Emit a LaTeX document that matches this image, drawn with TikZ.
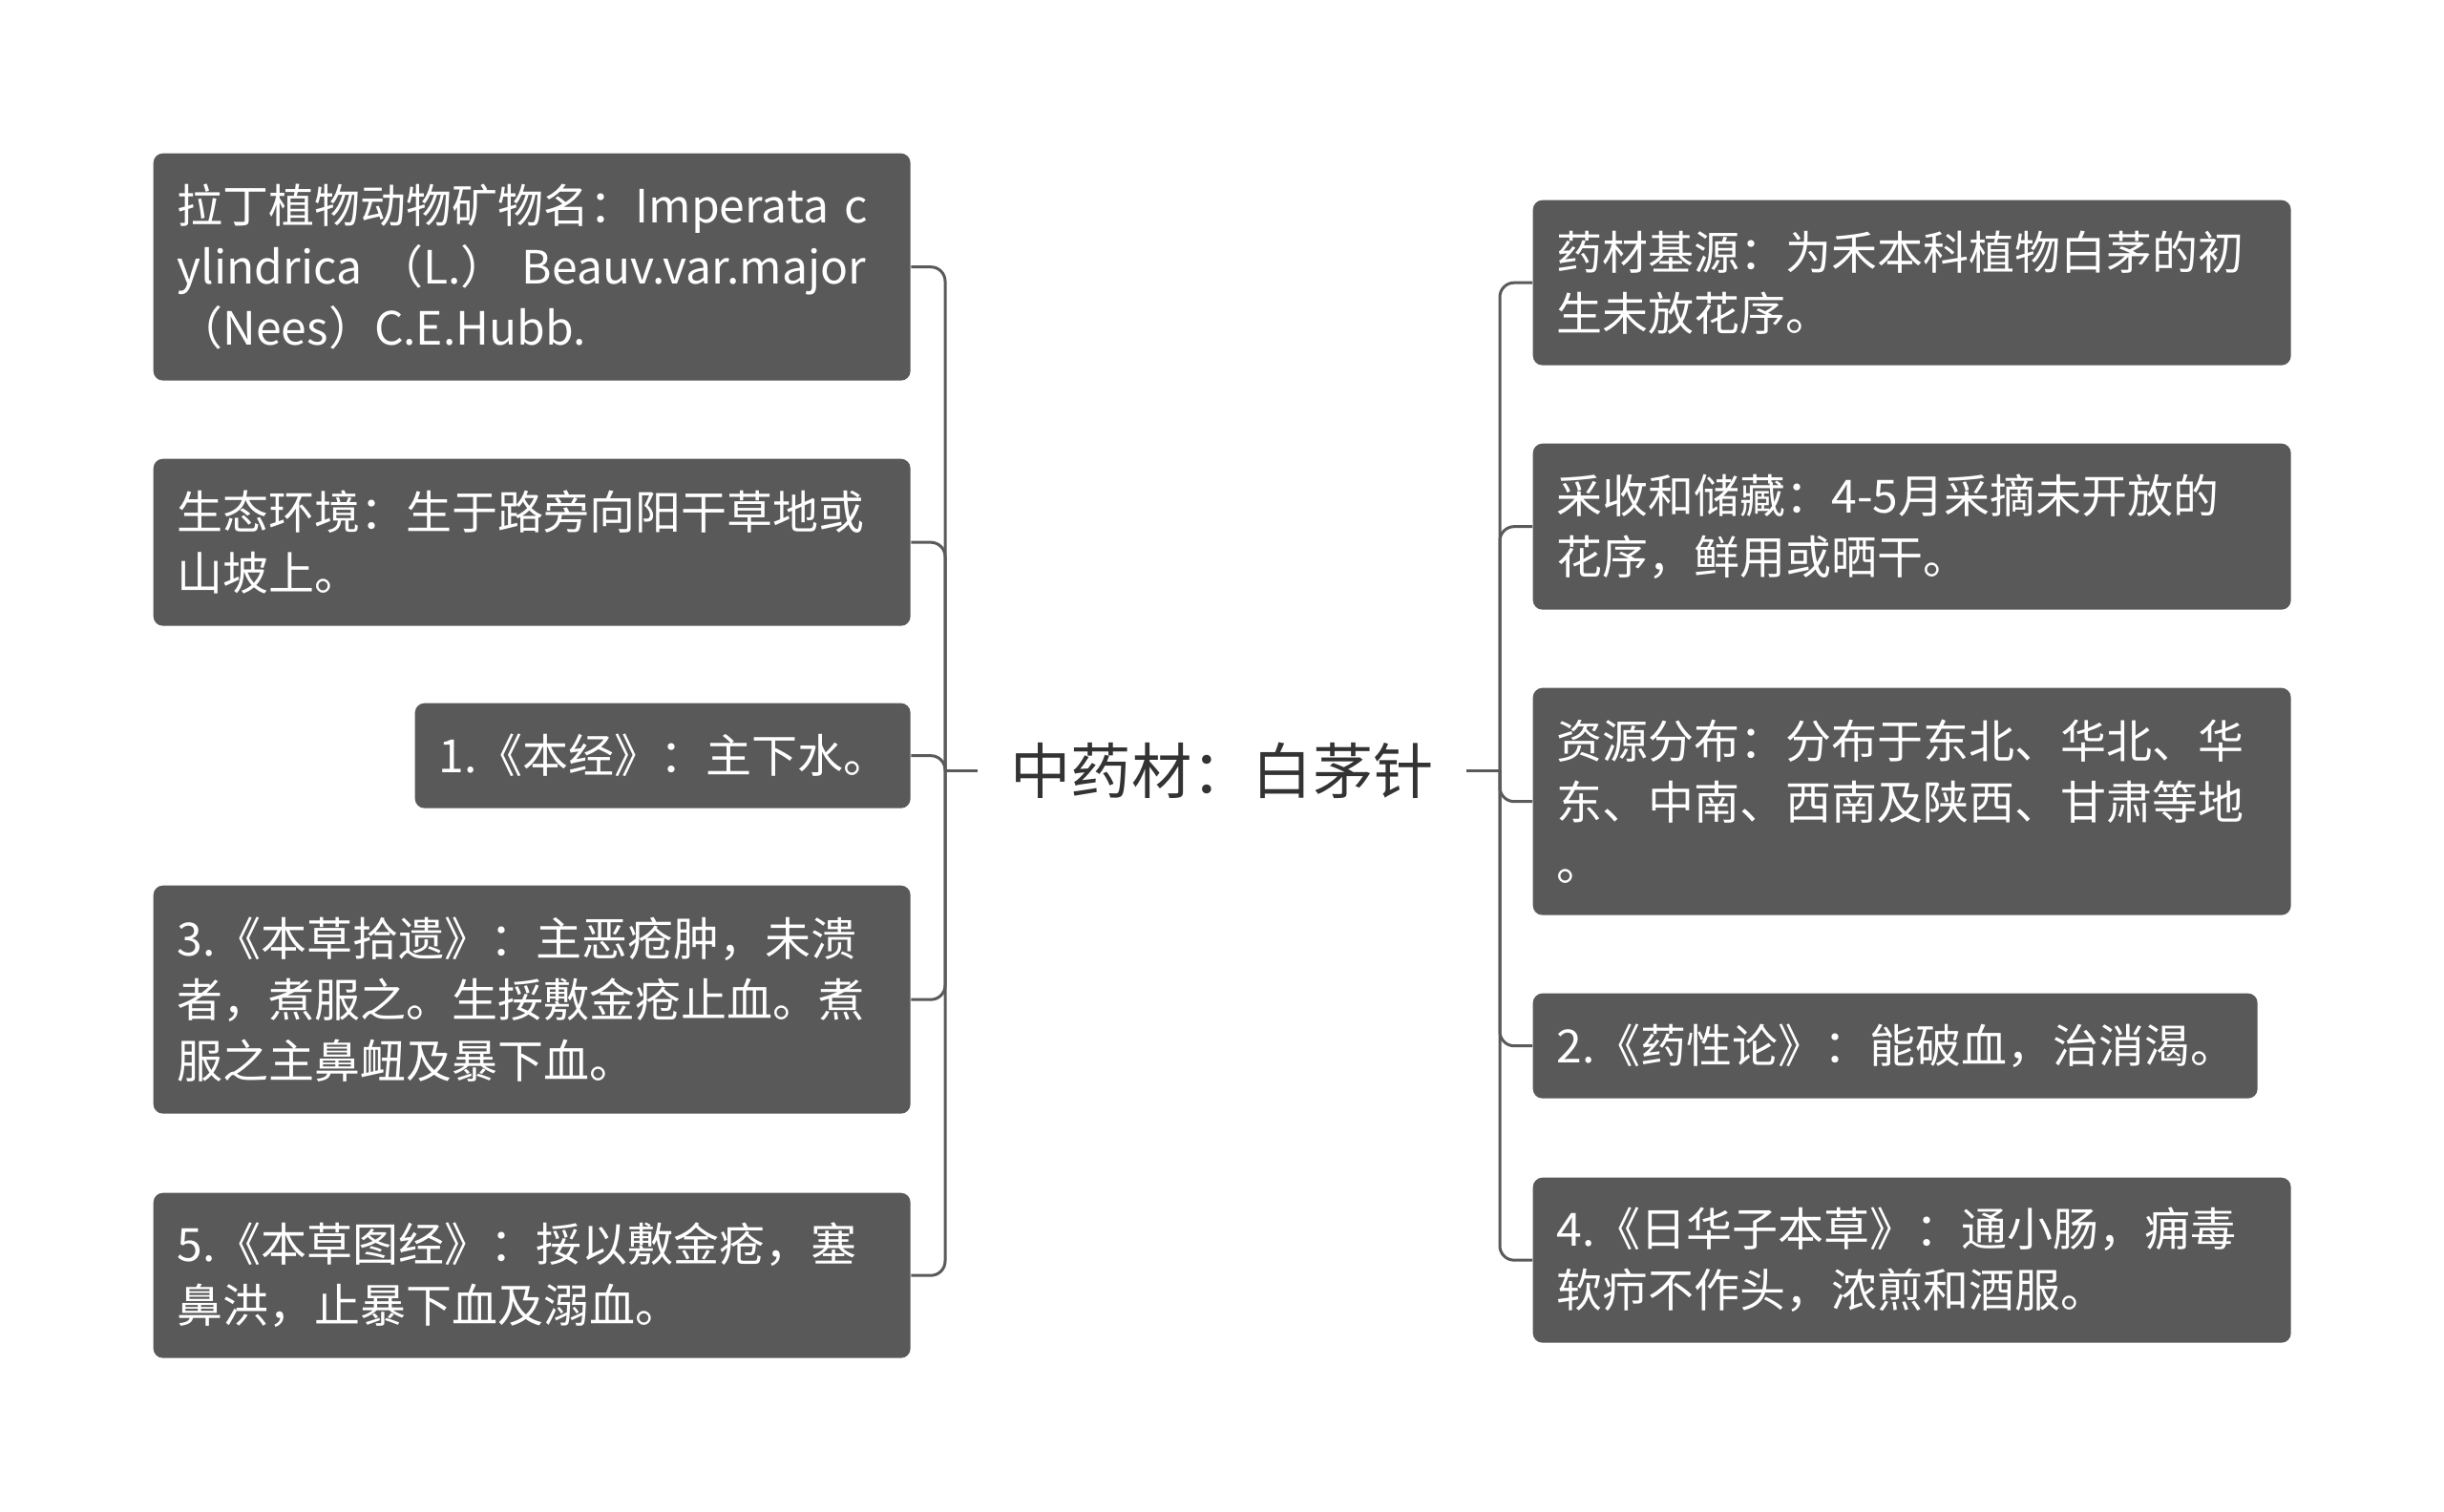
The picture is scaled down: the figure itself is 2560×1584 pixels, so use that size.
\documentclass[tikz,border=0pt]{standalone}
\usepackage{fontspec}
\newfontfamily\cjk{Noto Sans CJK SC}
\definecolor{boxgray}{HTML}{595959}
\definecolor{linegray}{HTML}{5A5A5A}
\definecolor{roottext}{HTML}{333333}
\tikzset{
  leaf/.style={rectangle, rounded corners=3pt, fill=boxgray, text=white,
    font=\cjk\fontsize{14.4}{19.2}\selectfont, align=left, anchor=north west,
    inner xsep=7.5pt, inner ysep=0pt},
  rootnode/.style={font=\cjk\fontsize{19}{22}\selectfont, text=roottext, inner xsep=10.2pt, inner ysep=4pt},
  conn/.style={draw=linegray, line width=0.9pt, rounded corners=4.5pt}
}
\begin{document}
\begin{tikzpicture}[x=0.3pt, y=-0.3pt]
\useasboundingbox (0,0) rectangle (2560,1584);
\fill[white] (0,0) rectangle (2560,1584);
% root
\node[rootnode] (root) at (1280,807) {中药材：白茅针};
\coordinate (lbus) at (990,807);
\coordinate (rbus) at (1571,807);
% left
\node[leaf, text width=222.9pt, minimum height=71.4pt] (L1) at (160,160)
  {拉丁植物动物矿物名：Imperata c\\ylindrica （L.） Beauv.var.major\\（Nees）C.E.Hubb.};
\node[leaf, text width=222.9pt, minimum height=52.5pt] (L2) at (160,480)
  {生态环境：生于路旁向阳干草地或\\山坡上。};
\node[leaf, text width=140.7pt, minimum height=33pt] (L3) at (434,736)
  {1.《本经》：主下水。};
\node[leaf, text width=222.9pt, minimum height=71.7pt] (L4) at (160,927)
  {3.《本草拾遗》：主恶疮肿，未溃\\者，煮服之。生挼敷金疮止血。煮\\服之主鼻衄及暴下血。};
\node[leaf, text width=222.9pt, minimum height=51.9pt] (L5) at (160,1249)
  {5.《本草图经》：挼以敷金疮，塞\\鼻洪，止暴下血及溺血。};
% right
\node[leaf, text width=223.2pt, minimum height=51.9pt] (R1) at (1605,209)
  {药材基源：为禾本科植物白茅的初\\生未放花序。};
\node[leaf, text width=223.2pt, minimum height=52.2pt] (R2) at (1605,464)
  {采收和储藏：4-5月采摘未开放的\\花序，鲜用或晒干。};
\node[leaf, text width=223.2pt, minimum height=71.4pt] (R3) at (1605,720)
  {资源分布：分布于东北、华北、华\\东、中南、西南及陕西、甘肃等地\\。};
\node[leaf, text width=212.7pt, minimum height=33pt] (R4) at (1605,1040)
  {2.《药性论》：能破血，治消渴。};
\node[leaf, text width=223.2pt, minimum height=51.9pt] (R5) at (1605,1233)
  {4.《日华子本草》：通小肠，痈毒\\软疖不作头，浓煎和酒服。};
% connectors
\draw[conn] (root.west) -- (lbus);
\draw[conn] (root.east) -- (rbus);
\foreach \n in {L1,L2,L3,L4,L5}{
  \draw[conn] (lbus) |- (\n.east);
}
\foreach \n in {R1,R2,R3,R4,R5}{
  \draw[conn] (rbus) |- (\n.west);
}
\end{tikzpicture}
\end{document}
